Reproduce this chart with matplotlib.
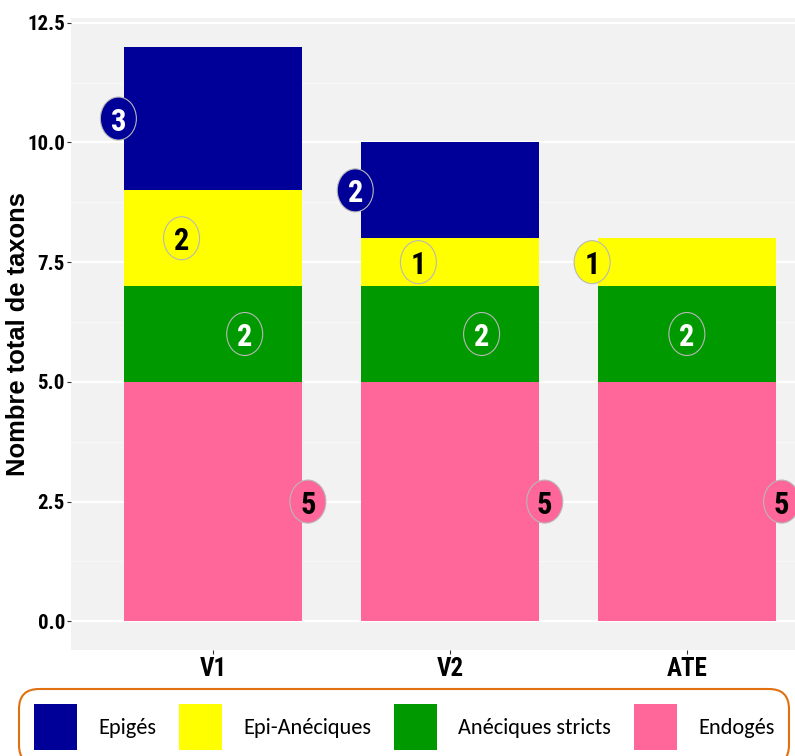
import matplotlib
matplotlib.use("Agg")
import matplotlib.pyplot as plt
from matplotlib.patches import Ellipse, Patch
from matplotlib import font_manager as fm
import numpy as np

# ---- data ----
sites = ["V1", "V2", "ATE"]
groups = ["Epigés", "Epi-Anéciques", "Anéciques stricts", "Endogés"]
epiges = [3, 2, 0]
epi_aneciques = [2, 1, 1]
aneciques = [2, 2, 2]
endoges = [5, 5, 5]
colors = ["#000099", "#FFFF00", "#009900", "#FF6699"]
label_colors = ["white", "black", "white", "black"]
y_ticks = [0.0, 2.5, 5.0, 7.5, 10.0, 12.5]

names = {f.name for f in fm.fontManager.ttflist}
def pick(cands):
    for c in cands:
        if c in names:
            return c
    return "DejaVu Sans"
narrow = pick(["Liberation Sans Narrow", "Arial Narrow", "Roboto Condensed", "Asap Condensed",
               "Barlow Semi Condensed", "Archivo Narrow"])
bold_font = pick(["Liberation Sans", "Arimo", "Arial"])
legend_font = pick(["Carlito", "Calibri", "Lato"])
legend_size = 16.0 if legend_font in ("Calibri", "Carlito") else 14.3

fig = plt.figure(figsize=(7.95, 7.56), dpi=100)
ax = fig.add_axes([71 / 795, 106 / 756, 758 / 795, 632 / 756])
ax.set_facecolor("#F2F2F2")

x = np.arange(1, len(sites) + 1)
width = 0.75
series = [epiges, epi_aneciques, aneciques, endoges]
stack_order = [3, 2, 1, 0]  # bottom to top
bottoms = np.zeros(len(sites))
seg = {}
for gi in stack_order:
    vals = np.array(series[gi], dtype=float)
    ax.bar(x, vals, width=width, bottom=bottoms, color=colors[gi], linewidth=0, zorder=3)
    seg[gi] = (bottoms.copy(), vals)
    bottoms = bottoms + vals

# labels in ellipses
ew = 36 / (758 / 3.2)
eh = 43 / (632 / 13.2)
for si in range(len(sites)):
    present = [gi for gi in range(4) if series[gi][si] > 0]
    offs = np.linspace(-0.4, 0.4, len(present))
    for off, gi in zip(offs, present):
        b, v = seg[gi]
        cx = x[si] + off
        cy = b[si] + v[si] / 2
        ax.add_patch(Ellipse((cx, cy), ew, eh, facecolor=colors[gi], edgecolor="#B8B8B8",
                             linewidth=0.8, zorder=5, clip_on=False))
        ax.text(cx, cy, f"{series[gi][si]}", ha="center", va="center_baseline", color=label_colors[gi],
                fontsize=22, fontweight="bold", family=narrow, zorder=6, clip_on=False)

ax.set_xlim(0.4, 3.6)
ax.set_ylim(-0.6, 12.6)
ax.set_xticks(x)
ax.set_xticklabels(sites, fontsize=18, fontweight="bold", family=narrow)
ax.set_yticks(y_ticks)
ax.set_yticklabels([f"{t:.1f}" for t in y_ticks], fontsize=15, fontweight="bold", family=narrow)
ax.set_yticks(np.arange(1.25, 12.6, 2.5), minor=True)
ax.tick_params(axis="both", which="major", length=2.9, width=0.8, color="#333333", labelcolor="black")
ax.tick_params(axis="x", pad=2.5)
ax.tick_params(axis="y", pad=1.5)
ax.tick_params(which="minor", length=0)
ax.grid(axis="y", which="major", color="white", linewidth=1.6, zorder=0)
ax.grid(axis="y", which="minor", color="#F8F8F8", linewidth=0.8, zorder=0)
ax.set_axisbelow(True)
for s in ax.spines.values():
    s.set_visible(False)

ax.set_ylabel("Nombre total de taxons", fontsize=18.4, fontweight="bold", family=bold_font, va="center")
ax.yaxis.set_label_coords((18 - 71) / 758, 0.5)

# legend
fs = legend_size
fs_px = fs * 100 / 72
hh = (46 / fs_px - 0.245) / 0.65
handles = [Patch(facecolor=c, edgecolor="none") for c in colors]
leg = fig.legend(handles, groups, loc="upper left", bbox_to_anchor=(19 / 795, 1 - 689 / 756),
                 ncol=4, frameon=True, fancybox=True,
                 prop={"family": legend_font, "size": fs},
                 handlelength=43 / fs_px, handleheight=hh,
                 handletextpad=21 / fs_px, columnspacing=23 / fs_px,
                 borderpad=15 / fs_px, borderaxespad=0)
fr = leg.get_frame()
fr.set_edgecolor("#E07010")
fr.set_linewidth(1.5)
fr.set_boxstyle("round", pad=0, rounding_size=0.9)
fr.set_alpha(1)

fig.savefig("out.png", dpi=100)
